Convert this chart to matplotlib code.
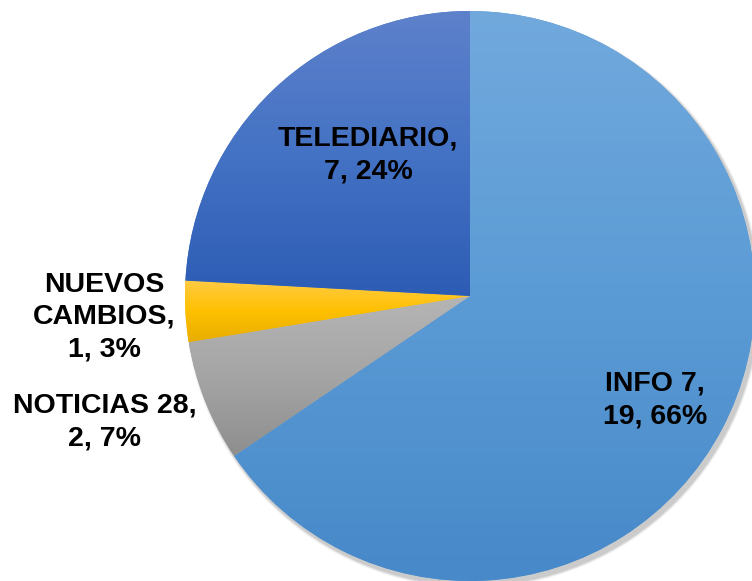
import matplotlib
matplotlib.use("Agg")
import matplotlib.pyplot as plt
import numpy as np
from matplotlib.colors import LinearSegmentedColormap
from matplotlib.patches import Circle

categories = ["INFO 7", "NOTICIAS 28", "NUEVOS CAMBIOS", "TELEDIARIO"]
values = [19, 2, 1, 7]
percent_labels = ["66%", "7%", "3%", "24%"]
label_texts = ["INFO 7,\n19, 66%", "NOTICIAS 28,\n2, 7%", "NUEVOS\nCAMBIOS,\n1, 3%", "TELEDIARIO,\n7, 24%"]

top_colors = ["#71a9dd", "#b5b5b5", "#ffcb45", "#5e81cb"]
mid_colors = ["#5b9bd5", "#a5a5a5", "#ffc000", "#4472c4"]
bot_colors = ["#4789c9", "#8e8e8e", "#e8ae00", "#2d5cb5"]
label_pos = [(185, -104), (-365, -126), (-366, -21), (-102, 141)]

W, H = 752, 581
cx, cy, R = 470, 296, 285

fig = plt.figure(figsize=(W / 100, H / 100), dpi=100)
ax = fig.add_axes([0, 0, 1, 1])

# soft shadow
for i, a in enumerate([0.05, 0.07, 0.09]):
    ax.add_patch(Circle((3, -4), R + 3 - i, color="black", alpha=a, lw=0, zorder=0))

wedges, _ = ax.pie(values, startangle=90, counterclock=False, radius=R,
                   center=(0, 0), colors=mid_colors,
                   wedgeprops=dict(linewidth=0))

grad = np.linspace(1, 0, 256).reshape(-1, 1)
for w, ct, cm, cb in zip(wedges, top_colors, mid_colors, bot_colors):
    th = np.radians(np.linspace(w.theta1, w.theta2, 400))
    xs = np.concatenate([[0], R * np.cos(th)])
    ys = np.concatenate([[0], R * np.sin(th)])
    cmap = LinearSegmentedColormap.from_list("g", [cb, cm, ct])
    im = ax.imshow(grad, cmap=cmap, extent=(xs.min(), xs.max(), ys.min(), ys.max()),
                   aspect="auto", origin="upper", zorder=2, interpolation="bilinear")
    im.set_clip_path(w)

for txt, (x, y) in zip(label_texts, label_pos):
    ax.text(x, y, txt, ha="center", va="center", fontsize=20.5, fontweight="bold",
            family=["Liberation Sans", "DejaVu Sans"], linespacing=1.32,
            color="black", zorder=5)

ax.set_xlim(-cx, W - cx)
ax.set_ylim(-(H - cy), cy)
ax.set_aspect("equal")
ax.axis("off")
fig.savefig("out.png", dpi=100)
